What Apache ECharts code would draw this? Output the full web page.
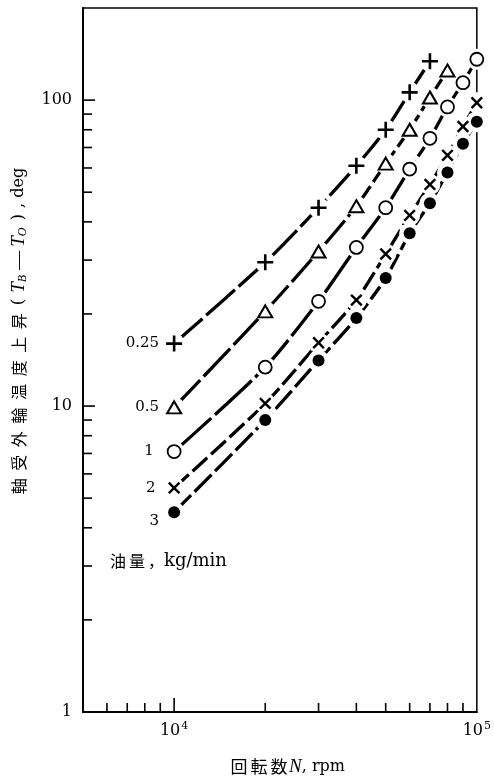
<!DOCTYPE html>
<html>
<head>
<meta charset="utf-8">
<script src="https://cdn.jsdelivr.net/npm/echarts@6/dist/echarts.min.js"></script>
<style>
html,body{margin:0;padding:0;background:#fff;}
#chart{width:494px;height:780px;}
</style>
</head>
<body>
<div id="chart"></div>
<script>
// ---- data ----
const rpm = [10000, 20000, 30000, 40000, 50000, 60000, 70000, 80000, 90000, 100000];
const oil025 = [16, 29.5, 44.5, 61, 80, 106, 134];
const oil05  = [9.9, 20.4, 32, 45, 62, 80, 102, 125];
const oil1   = [7.1, 13.4, 22, 33, 44.5, 59.5, 75, 95, 114, 136];
const oil2   = [5.4, 10.2, 16.1, 22.2, 31.4, 42, 53, 66, 82, 98];
const oil3   = [4.5, 9.0, 14.1, 19.4, 26.2, 36.7, 46, 58, 72, 85];
const oilLabels = ['0.25', '0.5', '1', '2', '3'];
const xTickValues = [6000, 7000, 8000, 9000, 10000, 20000, 30000, 40000, 50000, 60000, 70000, 80000, 90000];
const yTickValues = [2, 3, 4, 5, 6, 7, 8, 9, 10, 20, 30, 40, 50, 60, 70, 80, 90, 100];
const xMin = 5000, xMax = 100000, yMin = 1, yMax = 200;

const serif = "'DejaVu Serif','Liberation Serif',serif";
const serif2 = "'Liberation Serif','DejaVu Serif',serif";
const cjk = "'Noto Sans CJK JP','Noto Sans CJK SC',sans-serif";
const plusPath = 'path://M6.7,0H9.3V6.7H16V9.3H9.3V16H6.7V9.3H0V6.7H6.7Z';

const allValues = [oil025, oil05, oil1, oil2, oil3];
const styles = [
  {symbol: plusPath, size: 16, rotate: 0, fill: '#000', border: '#000', bw: 0, dash: [38, 5], dist: 7, offset: [0, 0]},
  {symbol: 'triangle', size: [14, 12], rotate: 0, fill: '#fff', border: '#000', bw: 2, dash: [38, 5], dist: 7, offset: [0, 0]},
  {symbol: 'circle', size: 13, rotate: 0, fill: '#fff', border: '#000', bw: 1.8, dash: [50, 5], dist: 13, offset: [0, 0]},
  {symbol: plusPath, size: 15, rotate: 45, fill: '#000', border: '#000', bw: 0, dash: [20, 5], dist: 8, offset: [0, 0]},
  {symbol: 'circle', size: 12, rotate: 0, fill: '#000', border: '#000', bw: 0, dash: [24, 5], dist: 9, offset: [0, 9]}
];

const series = [];
allValues.forEach((vals, i) => {
  const st = styles[i];
  const pts = vals.map((v, j) => [rpm[j], v]);
  series.push({
    type: 'line', data: pts, showSymbol: false, smooth: 0.25, z: 2,
    lineStyle: {color: '#000', width: 3.3, type: st.dash}, silent: true
  });
  series.push({
    type: 'scatter', data: pts, symbol: 'circle', symbolSize: 21, z: 3,
    itemStyle: {color: '#fff', opacity: 1}, silent: true
  });
  series.push({
    type: 'scatter', z: 4, silent: true,
    symbol: st.symbol, symbolSize: st.size, symbolRotate: st.rotate,
    itemStyle: {color: st.fill, borderColor: st.border, borderWidth: st.bw, opacity: 1},
    data: pts.map((p, j) => j === 0 ? {
      value: p,
      label: {show: true, position: 'left', distance: st.dist, offset: st.offset,
        formatter: oilLabels[i], fontFamily: serif, fontSize: 15, color: '#000'}
    } : {value: p})
  });
});

// custom tick marks (inward) drawn through the axis scales
series.push({
  type: 'custom', z: 5, silent: true,
  data: xTickValues.map(v => [v, yMin]),
  renderItem: function (params, api) {
    const v = api.value(0);
    const p = api.coord([v, yMin]);
    const major = Math.abs(Math.log10(v) - Math.round(Math.log10(v))) < 1e-9;
    const len = major ? 14 : 9;
    return {type: 'line', shape: {x1: p[0], y1: p[1], x2: p[0], y2: p[1] - len},
      style: {stroke: '#000', lineWidth: 1.6}};
  }
});
series.push({
  type: 'custom', z: 5, silent: true,
  data: yTickValues.map(v => [xMin, v]),
  renderItem: function (params, api) {
    const v = api.value(1);
    const p = api.coord([xMin, v]);
    const major = Math.abs(Math.log10(v) - Math.round(Math.log10(v))) < 1e-9;
    const len = major ? 12 : 9;
    return {type: 'line', shape: {x1: p[0], y1: p[1], x2: p[0] + len, y2: p[1]},
      style: {stroke: '#000', lineWidth: 1.6}};
  }
});

function isPow10(v) {
  const l = Math.log10(v);
  return Math.abs(l - Math.round(l)) < 1e-6;
}

const cjkTitle = '軸受外輪温度上昇';
let yTitle = '';
for (const ch of cjkTitle) yTitle += '{c|' + ch + '}';
yTitle += '{p|(}{t|T}{sub|B}{m|—}{t|T}{sub|O}{p|)}{r|, deg}';

const chart = echarts.init(document.getElementById('chart'), null, {renderer: 'canvas'});
chart.setOption({
  animation: false,
  backgroundColor: '#fff',
  grid: {left: 83, right: 14, top: 8, bottom: 68, show: true, borderColor: '#000', borderWidth: 1.5, backgroundColor: 'transparent'},
  xAxis: {
    type: 'log', logBase: 10, min: xMin, max: xMax,
    axisLine: {show: true, lineStyle: {color: '#000', width: 2}},
    axisTick: {show: false}, splitLine: {show: false}, minorTick: {show: false},
    axisLabel: {
      margin: 9, color: '#000',
      formatter: function (v) {
        if (!isPow10(v)) return '';
        return '{b|10}{s|' + Math.round(Math.log10(v)) + '}';
      },
      rich: {
        b: {fontFamily: serif, fontSize: 16, color: '#000'},
        s: {fontFamily: serif, fontSize: 11, color: '#000', padding: [0, 0, 9, 1]}
      }
    }
  },
  yAxis: {
    type: 'log', logBase: 10, min: yMin, max: yMax,
    axisLine: {show: true, lineStyle: {color: '#000', width: 2}},
    axisTick: {show: false}, splitLine: {show: false}, minorTick: {show: false},
    axisLabel: {
      margin: 11, color: '#000', fontFamily: serif, fontSize: 16,
      showMaxLabel: false,
      formatter: function (v) { return isPow10(v) ? String(Math.round(v)) : ''; }
    }
  },
  graphic: [
    {
      type: 'text', x: 19, y: 333, rotation: Math.PI / 2, z: 10,
      style: {
        text: yTitle, align: 'center', verticalAlign: 'middle', fill: '#000',
        rich: {
          c: {fontFamily: cjk, fontSize: 16, fill: '#000', padding: [0, 3.8]},
          p: {fontFamily: serif, fontSize: 17, fill: '#000', padding: [0, 4]},
          t: {fontFamily: serif2, fontSize: 19, fontStyle: 'italic', fill: '#000', padding: [0, 0, 0, 2]},
          sub: {fontFamily: serif2, fontSize: 12, fontStyle: 'italic', fill: '#000', padding: [8, 3, 0, 0]},
          m: {fontFamily: serif2, fontSize: 19, fill: '#000', padding: [0, 2]},
          r: {fontFamily: serif, fontSize: 16, fill: '#000', padding: [0, 0, 0, 2]}
        }
      }
    },
    {
      type: 'text', x: 287, y: 767, z: 10,
      style: {
        text: '{c|回}{c|転}{c|数}{n|N}{r|, rpm}', align: 'center', verticalAlign: 'middle', fill: '#000',
        rich: {
          c: {fontFamily: cjk, fontSize: 17, fill: '#000', padding: [0, 1.5]},
          n: {fontFamily: serif2, fontSize: 19, fontStyle: 'italic', fill: '#000'},
          r: {fontFamily: serif, fontSize: 16, fill: '#000'}
        }
      }
    },
    {
      type: 'text', x: 110, y: 561, z: 10,
      style: {
        text: '{c|油}{c|量}{k|，}{r|kg/min}', align: 'left', verticalAlign: 'middle', fill: '#000',
        rich: {
          c: {fontFamily: cjk, fontSize: 16, fill: '#000', padding: [0, 3, 0, 0]},
          k: {fontFamily: cjk, fontSize: 16, fill: '#000'},
          r: {fontFamily: serif, fontSize: 18, fill: '#000'}
        }
      }
    }
  ],
  series: series
});
</script>
</body>
</html>
